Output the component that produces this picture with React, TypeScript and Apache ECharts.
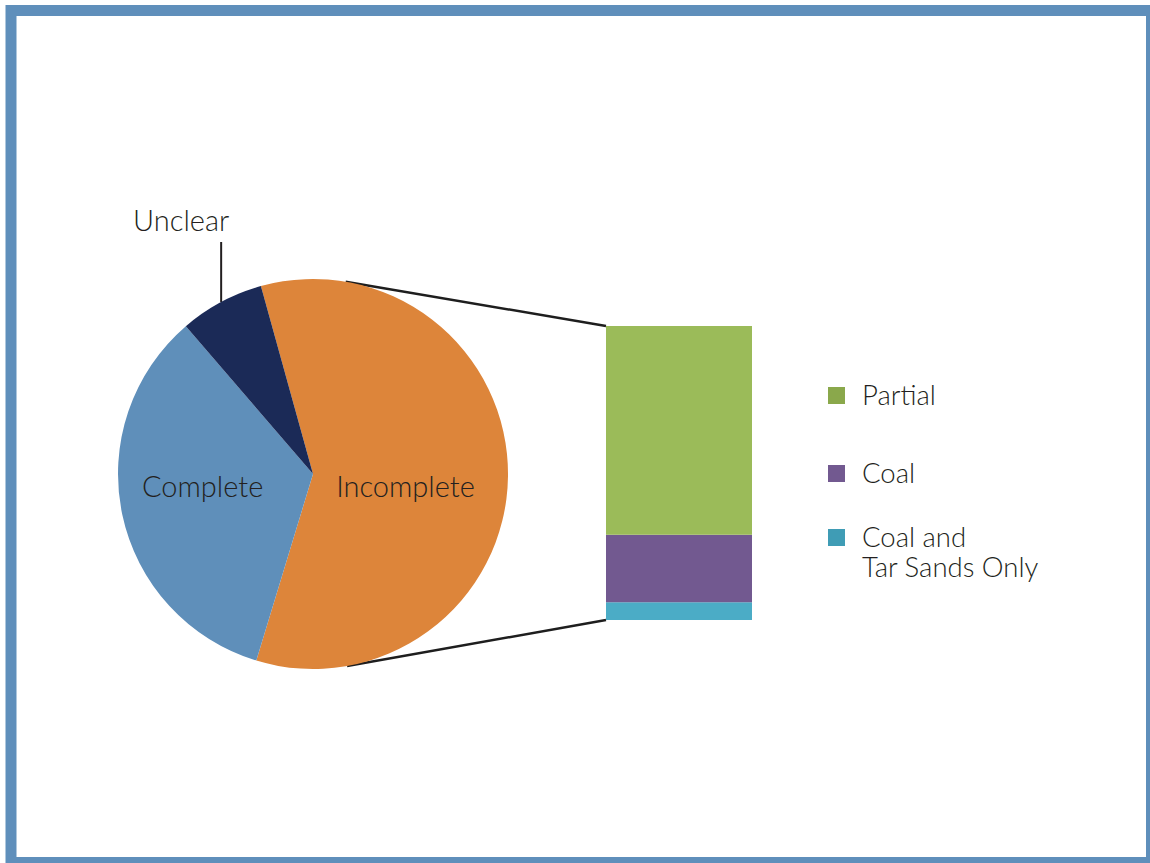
import React, { useEffect, useRef } from "react";
import * as echarts from "echarts";

// ---- data ----
const pieNames = ["Incomplete", "Complete", "Unclear"];
const pieValues = [59, 34, 7];
const pieColors = ["#dd853a", "#5f8fba", "#1b2a57"];

const barCategory = ["Incomplete"];
const barNames = ["Partial", "Coal", "Coal and\nTar Sands Only"];
const barValues = [71, 23, 6];
const barColors = ["#9bbb59", "#725990", "#4bacc6"];
const legendColors = ["#8aa84b", "#725990", "#3f9cb5"];

// ---- layout constants ----
const W = 1150;
const H = 863;
const PIE_C = [313, 474];
const PIE_R = 195;
const GRID = { left: 606, top: 326, width: 146, height: 294 };
const FONT = "Lato, 'Open Sans', sans-serif";
const FONT_WEIGHT = 300;
const TEXT_COLOR = "#231f20";
const labelShift: Record<string, [number, number]> = {
  Complete: [-12, -9],
  Incomplete: [-8, 10],
};

function tangentPoint(px: number, py: number, upper: boolean): [number, number] {
  const vx = px - PIE_C[0];
  const vy = py - PIE_C[1];
  const d = Math.sqrt(vx * vx + vy * vy);
  const phi = Math.atan2(vy, vx);
  const a = Math.acos(PIE_R / d);
  const t = upper ? phi - a : phi + a;
  return [PIE_C[0] + PIE_R * Math.cos(t), PIE_C[1] + PIE_R * Math.sin(t)];
}

export default function App() {
  const ref = useRef<HTMLDivElement>(null);
  useEffect(() => {
    if (!ref.current) return;
    const chart = echarts.init(ref.current, null, { renderer: "svg" });

    const total = pieValues.reduce((a, b) => a + b, 0);
    const unclearIdx = pieNames.indexOf("Unclear");

    const topCorner: [number, number] = [GRID.left, GRID.top];
    const botCorner: [number, number] = [GRID.left, GRID.top + GRID.height];
    const tTop = tangentPoint(topCorner[0], topCorner[1], true);
    const tBot = tangentPoint(botCorner[0], botCorner[1], false);

    const legendTops = [395.5, 473.5, 537.5];

    const legendGraphics: any[] = [];
    barNames.forEach((n, i) => {
      legendGraphics.push({
        type: "rect",
        shape: { x: 828, y: legendTops[i] - 8.5, width: 17, height: 17 },
        style: { fill: legendColors[i] },
      });
      legendGraphics.push({
        type: "text",
        x: 862,
        y: legendTops[i] - 16.5,
        style: {
          text: n,
          fill: TEXT_COLOR,
          fontSize: 27.5,
          fontWeight: FONT_WEIGHT,
          fontFamily: FONT,
          lineHeight: 30,
          verticalAlign: "top",
        },
      });
    });

    const barSeries = barNames
      .map((n, i) => ({
        name: n,
        type: "bar" as const,
        stack: "total",
        barWidth: "100%",
        data: [barValues[i]],
        itemStyle: { color: barColors[i] },
        silent: true,
      }))
      .reverse();

    chart.setOption({
      animation: false,
      backgroundColor: "#ffffff",
      grid: { ...GRID },
      xAxis: { type: "category", data: barCategory, show: false },
      yAxis: { type: "value", min: 0, max: 100, show: false },
      series: [
        {
          type: "pie",
          center: PIE_C,
          radius: PIE_R,
          startAngle: 105.5,
          clockwise: true,
          silent: true,
          label: {
            show: true,
            position: "inside",
            formatter: "{b}",
            fontSize: 29,
            fontWeight: FONT_WEIGHT,
            fontFamily: FONT,
            color: TEXT_COLOR,
          },
          labelLine: { show: false },
          labelLayout: (params: any) => {
            const name = pieNames[params.dataIndex];
            if (params.seriesIndex !== 0) return {};
            if (name === "Unclear") {
              let p0: number[] | undefined = params.labelLinePoints && params.labelLinePoints[0];
              if (!p0) {
                let acc = 0;
                for (let k = 0; k < unclearIdx; k++) acc += pieValues[k];
                const startRad = (105.5 * Math.PI) / 180;
                const mid = startRad - ((acc + pieValues[unclearIdx] / 2) / total) * Math.PI * 2;
                p0 = [PIE_C[0] + PIE_R * Math.cos(mid), PIE_C[1] - PIE_R * Math.sin(mid)];
              }
              const top = p0[1] - 60;
              return {
                x: p0[0] - 40,
                y: top - 22,
                align: "center",
                verticalAlign: "middle",
                labelLinePoints: [
                  [p0[0], p0[1]],
                  [p0[0], top],
                  [p0[0], top],
                ],
              };
            }
            const s = labelShift[name] || [0, 0];
            return { dx: s[0], dy: s[1] };
          },
          data: pieNames.map((n, i) =>
            n === "Unclear"
              ? {
                  name: n,
                  value: pieValues[i],
                  itemStyle: { color: pieColors[i] },
                  label: { position: "outside" },
                  labelLine: {
                    show: true,
                    length: 20,
                    length2: 0,
                    lineStyle: { color: "#231f20", width: 2 },
                  },
                }
              : { name: n, value: pieValues[i], itemStyle: { color: pieColors[i] } }
          ),
        },
        ...barSeries,
      ],
      graphic: [
        {
          type: "line",
          shape: { x1: tTop[0], y1: tTop[1], x2: topCorner[0], y2: topCorner[1] },
          style: { stroke: "#1e1e1e", lineWidth: 2.5 },
        },
        {
          type: "line",
          shape: { x1: tBot[0], y1: tBot[1], x2: botCorner[0], y2: botCorner[1] },
          style: { stroke: "#1e1e1e", lineWidth: 2.5 },
        },
        ...legendGraphics,
        {
          type: "rect",
          shape: { x: 11, y: 10.5, width: 1140.5, height: 852 },
          style: { fill: "none", stroke: "#5f8fbb", lineWidth: 11 },
          z: 100,
        },
      ],
    });
    return () => chart.dispose();
  }, []);
  return (
    <div
      ref={ref}
      style={{ position: "absolute", left: 0, top: 0, width: W, height: H }}
    />
  );
}
